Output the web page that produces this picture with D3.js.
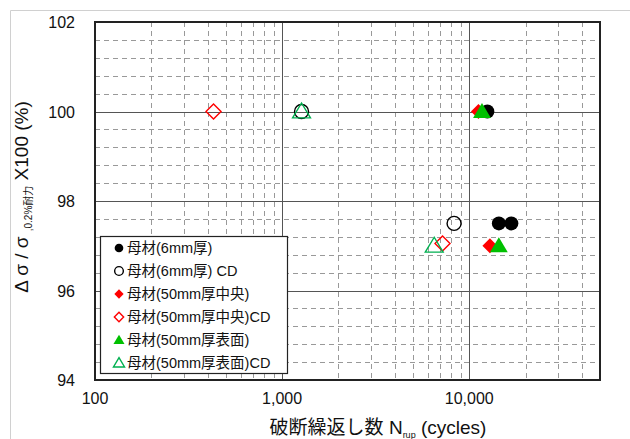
<!DOCTYPE html>
<html>
<head>
<meta charset="utf-8">
<script src="https://cdn.jsdelivr.net/npm/d3@7"></script>
<style>
    body { margin: 0; background: #fff; }
    svg text { font-family: "Liberation Sans", "Noto Sans CJK JP", sans-serif; fill: #111; }
</style>
</head>
<body>
<svg id="chart" width="630" height="439"></svg>
<script>
// series labels (legend order)
const seriesNames = ["母材(6mm厚)", "母材(6mm厚) CD", "母材(50mm厚中央)", "母材(50mm厚中央)CD", "母材(50mm厚表面)", "母材(50mm厚表面)CD"];
// cycles to rupture, per series
const cyclesBase6 = [12500, 14400, 16800];
const cyclesBase6CD = [1270, 8300];
const cyclesCenter50 = [11200, 12900];
const cyclesCenter50CD = [430, 7200];
const cyclesSurface50 = [11700, 14400];
const cyclesSurface50CD = [1270, 6500];
// stress ratio (%), per series
const ratioBase6 = [100, 97.5, 97.5];
const ratioBase6CD = [100, 97.5];
const ratioCenter50 = [100, 97];
const ratioCenter50CD = [100, 97.05];
const ratioSurface50 = [100, 97];
const ratioSurface50CD = [100, 97];

const xTicks = [100, 1000, 10000];
const yTicks = [94, 96, 98, 100, 102];

var svg = d3.select("#chart");
var pLeft = 95, pRight = 600, pTop = 22, pBottom = 380;

var x = d3.scaleLog().domain([100, 50000]).range([pLeft, pRight]);
var y = d3.scaleLinear().domain([94, 102]).range([pBottom, pTop]);

// light outer frame
svg.append("path")
    .attr("d", "M10.5,439 V10.5 H630")
    .attr("fill", "none")
    .attr("stroke", "#d0d0d0");

// minor grid (dashed)
var minorX = [];
[100, 1000, 10000].forEach(function(dec) {
    for (var k = 2; k <= 9; k++) {
        if (dec * k < 50000) minorX.push(dec * k);
    }
});
var minorY = d3.range(94, 102.001, 0.4).filter(function(v) {
    return Math.abs(v / 2 - Math.round(v / 2)) > 0.01;
});

svg.append("g").selectAll("line").data(minorX).join("line")
    .attr("x1", d => Math.round(x(d)) + 0.5).attr("x2", d => Math.round(x(d)) + 0.5)
    .attr("y1", pTop).attr("y2", pBottom)
    .attr("stroke", "#999").attr("stroke-dasharray", "5,4");
svg.append("g").selectAll("line").data(minorY).join("line")
    .attr("y1", d => Math.round(y(d)) + 0.5).attr("y2", d => Math.round(y(d)) + 0.5)
    .attr("x1", pLeft).attr("x2", pRight)
    .attr("stroke", "#999").attr("stroke-dasharray", "5,4");

// major grid (solid)
svg.append("g").selectAll("line").data([1000, 10000]).join("line")
    .attr("x1", d => Math.round(x(d)) + 0.5).attr("x2", d => Math.round(x(d)) + 0.5)
    .attr("y1", pTop).attr("y2", pBottom)
    .attr("stroke", "#555");
svg.append("g").selectAll("line").data([96, 98, 100]).join("line")
    .attr("y1", d => Math.round(y(d)) + 0.5).attr("y2", d => Math.round(y(d)) + 0.5)
    .attr("x1", pLeft).attr("x2", pRight)
    .attr("stroke", "#555");

// plot frame
svg.append("rect")
    .attr("x", pLeft).attr("y", pTop)
    .attr("width", pRight - pLeft).attr("height", pBottom - pTop)
    .attr("fill", "none").attr("stroke", "#222").attr("stroke-width", 2);

// tick labels
svg.append("g").selectAll("text").data(xTicks).join("text")
    .attr("x", d => x(d)).attr("y", 404)
    .attr("text-anchor", "middle")
    .attr("font-size", 16)
    .text(d => d3.format(",")(d));
svg.append("g").selectAll("text").data(yTicks).join("text")
    .attr("x", 75).attr("y", d => y(d) + 6)
    .attr("text-anchor", "end")
    .attr("font-size", 16)
    .text(d => d);

// axis titles
var xt = svg.append("text")
    .attr("x", 378).attr("y", 434)
    .attr("text-anchor", "middle")
    .attr("font-size", 19);
xt.append("tspan").text("破断繰返し数 N");
xt.append("tspan").attr("font-size", 9).attr("dy", 4).text("rup");
xt.append("tspan").attr("dy", -4).text(" (cycles)");

var yt = svg.append("text")
    .attr("transform", "translate(28,197) rotate(-90)")
    .attr("text-anchor", "middle")
    .attr("font-size", 19);
yt.append("tspan").text("Δ σ / σ ");
yt.append("tspan").attr("font-size", 10).attr("dy", 4).text(",0.2%耐力");
yt.append("tspan").attr("dy", -4).text(" X100 (%)");

// marker shapes
function markerPath(shape, s) {
    if (shape == "circle") return d3.symbol().type(d3.symbolCircle).size(Math.PI * s * s)();
    if (shape == "diamond") return "M0," + (-s) + "L" + s + ",0L0," + s + "L" + (-s) + ",0Z";
    // triangle
    return "M0," + (-s) + "L" + (s * 1.05) + "," + (s * 0.75) + "L" + (-s * 1.05) + "," + (s * 0.75) + "Z";
}

var series = [
    { name: seriesNames[0], xs: cyclesBase6, ys: ratioBase6, shape: "circle", color: "#000", filled: true },
    { name: seriesNames[1], xs: cyclesBase6CD, ys: ratioBase6CD, shape: "circle", color: "#000", filled: false },
    { name: seriesNames[2], xs: cyclesCenter50, ys: ratioCenter50, shape: "diamond", color: "#ff0000", filled: true },
    { name: seriesNames[3], xs: cyclesCenter50CD, ys: ratioCenter50CD, shape: "diamond", color: "#ff0000", filled: false },
    { name: seriesNames[4], xs: cyclesSurface50, ys: ratioSurface50, shape: "triangle", color: "#00c000", filled: true },
    { name: seriesNames[5], xs: cyclesSurface50CD, ys: ratioSurface50CD, shape: "triangle", color: "#00b050", filled: false }
];

var sizes = { circle: 7, diamond: 7.5, triangle: 8.5 };

series.forEach(function(s) {
    var pts = s.xs.map(function(v, i) { return [v, s.ys[i]]; });
    svg.append("g").selectAll("path").data(pts).join("path")
        .attr("transform", d => "translate(" + x(d[0]) + "," + y(d[1]) + ")")
        .attr("d", markerPath(s.shape, sizes[s.shape]))
        .attr("fill", s.filled ? s.color : "none")
        .attr("stroke", s.color)
        .attr("stroke-width", s.filled ? 0 : 1.4);
});

// legend
var lg = svg.append("g");
lg.append("rect")
    .attr("x", 100.5).attr("y", 236.5)
    .attr("width", 187).attr("height", 137)
    .attr("fill", "#fff").attr("stroke", "#222").attr("stroke-width", 1.2);

var rows = lg.selectAll("g").data(series).join("g")
    .attr("transform", (d, i) => "translate(119," + (248 + i * 23) + ")");
rows.append("path")
    .attr("d", d => markerPath(d.shape, sizes[d.shape] * 0.62))
    .attr("fill", d => d.filled ? d.color : "none")
    .attr("stroke", d => d.color)
    .attr("stroke-width", d => d.filled ? 0 : 1.4);
rows.append("text")
    .attr("x", 8).attr("y", 5)
    .attr("font-size", 14.5)
    .text(d => d.name);
</script>
</body>
</html>
